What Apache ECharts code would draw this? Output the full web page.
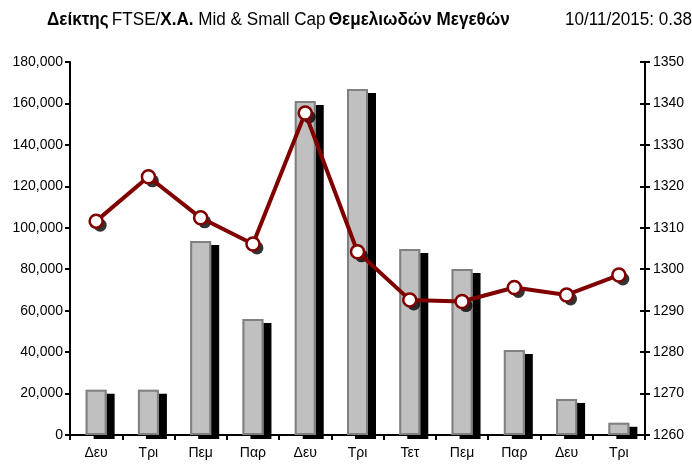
<!DOCTYPE html>
<html lang="el">
<head>
    <meta charset="UTF-8">
    <title>FTSE/X.A. Mid & Small Cap</title>
    <script src="https://cdn.jsdelivr.net/npm/echarts@6/dist/echarts.min.js"></script>
</head>
<body style="margin:0;background:#fff;">
<div id="main" style="width: 692px;height:467px;"></div>

<script type="text/javascript">
    // ημέρες
    var days = ['Δευ', 'Τρι', 'Πεμ', 'Παρ', 'Δευ', 'Τρι', 'Τετ', 'Πεμ', 'Παρ', 'Δευ', 'Τρι'];
    // όγκος (αριστερός άξονας)
    var volume = [21800, 21800, 93600, 56000, 161200, 167000, 89800, 80100, 41000, 17400, 5900];
    // τιμή δείκτη (δεξιός άξονας)
    var indexValue = [1311.6, 1322.3, 1312.4, 1306.1, 1337.7, 1304.2, 1292.6, 1292.2, 1295.6, 1293.8, 1298.6];

    var font = "'Liberation Sans', Arial, sans-serif";

    var myChart = echarts.init(document.getElementById('main'));

    // ο τίτλος με στενή γραμματοσειρά -> συμπίεση με scaleX
    var titleRich = {
        b: {fontFamily: font, fontSize: 18, fontWeight: 'bold', fill: '#000'},
        n: {fontFamily: font, fontSize: 18, fontWeight: 'normal', fill: '#000'}
    };

    myChart.setOption({
        animation: false,
        graphic: [
            {
                type: 'text',
                x: 47,
                y: 11,
                scaleX: 0.95,
                style: {
                    text: '{b|Δείκτης} {n|FTSE/}{b|Χ.Α.}{n| Mid & Small Cap} {b|Θεμελιωδών Μεγεθών}',
                    rich: titleRich
                }
            },
            {
                type: 'text',
                x: 565,
                y: 11,
                scaleX: 0.95,
                style: {
                    text: '{n|10/11/2015: 0.38%}',
                    rich: titleRich
                }
            }
        ],
        grid: {left: 70, right: 47, top: 62, bottom: 32},
        xAxis: {
            type: 'category',
            data: days,
            boundaryGap: true,
            axisLine: {lineStyle: {color: '#000', width: 2}},
            axisTick: {show: true, length: 5, alignWithLabel: false, lineStyle: {color: '#000', width: 2}},
            axisLabel: {color: '#000', fontSize: 14, fontFamily: font, margin: 11}
        },
        yAxis: [
            {
                type: 'value',
                min: 0,
                max: 180000,
                interval: 20000,
                splitLine: {show: false},
                axisLine: {show: true, lineStyle: {color: '#000', width: 2}},
                axisTick: {show: true, length: 5, lineStyle: {color: '#000', width: 2}},
                axisLabel: {
                    color: '#000', fontSize: 14, fontFamily: font, margin: 7,
                    formatter: function (v) { return v.toLocaleString('en-US'); }
                }
            },
            {
                type: 'value',
                position: 'right',
                min: 1260,
                max: 1350,
                interval: 10,
                splitLine: {show: false},
                axisLine: {show: true, lineStyle: {color: '#000', width: 2}},
                axisTick: {show: true, length: 5, lineStyle: {color: '#000', width: 2}},
                axisLabel: {
                    color: '#000', fontSize: 14, fontFamily: font, margin: 8,
                    formatter: function (v) { return String(v); }
                }
            },
            {
                // inner half of the crossing ticks on the right axis
                type: 'value',
                position: 'right',
                min: 1260,
                max: 1350,
                interval: 10,
                splitLine: {show: false},
                axisLine: {show: false},
                axisTick: {show: true, inside: true, length: 5, lineStyle: {color: '#000', width: 2}},
                axisLabel: {show: false}
            }
        ],
        series: [
            {
                // gray fill with black drop shadow
                name: 'Όγκος',
                type: 'bar',
                data: volume,
                barWidth: 21,
                itemStyle: {
                    color: '#c0c0c0',
                    shadowColor: '#000',
                    shadowBlur: 0,
                    shadowOffsetX: 8,
                    shadowOffsetY: 4
                }
            },
            {
                // border only, drawn over the fill
                name: 'Όγκος-περίγραμμα',
                type: 'bar',
                data: volume,
                barWidth: 21,
                barGap: '-100%',
                silent: true,
                itemStyle: {
                    color: 'rgba(0,0,0,0)',
                    borderColor: '#808080',
                    borderWidth: 2
                }
            },
            {
                // black shadow under the markers
                name: 'σκιά',
                type: 'scatter',
                yAxisIndex: 1,
                data: indexValue,
                z: 4,
                silent: true,
                symbol: 'circle',
                symbolSize: 13,
                symbolOffset: [4, 4],
                itemStyle: {color: '#000'}
            },
            {
                name: 'Δείκτης',
                type: 'line',
                yAxisIndex: 1,
                data: indexValue,
                z: 5,
                symbol: 'circle',
                symbolSize: 13,
                showAllSymbol: true,
                lineStyle: {color: '#800000', width: 4},
                itemStyle: {
                    color: '#fff',
                    borderColor: '#800000',
                    borderWidth: 2.5
                }
            }
        ]
    });
</script>
</body>
</html>
